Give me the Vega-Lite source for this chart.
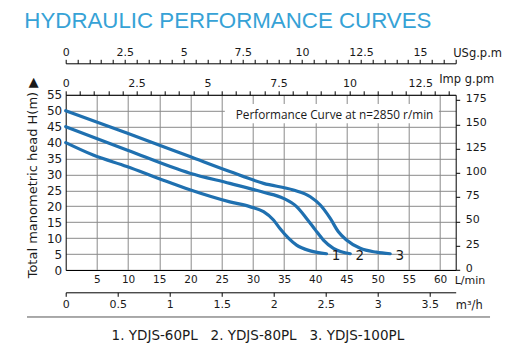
{
  "$schema": "https://vega.github.io/schema/vega-lite/v6.json",
  "width": 390,
  "height": 175.2,
  "autosize": "none",
  "padding": {"left": 65.7, "top": 94.8, "right": 62.3, "bottom": 80},
  "background": "white",
  "config": {
    "view": {"stroke": null},
    "axis": {"labelFont": "DejaVu Sans", "labelColor": "#1a1a1a", "titleFont": "DejaVu Sans", "titleColor": "#1a1a1a", "titleFontWeight": "normal", "domainColor": "#000000", "tickColor": "#000000", "domainWidth": 1, "tickWidth": 1, "labelOverlap": false, "labelFlush": false, "tickCount": 100}
  },
  "title": {"text": "HYDRAULIC PERFORMANCE CURVES", "anchor": "start", "frame": "group", "dx": -41.4, "offset": 14, "font": "Liberation Sans", "fontSize": 22.3, "fontWeight": "normal", "color": "#36a2d6"},
  "datasets": {
    "curves": [
      {"model": "1", "Q": 0, "H": 40}, {"model": "1", "Q": 4.4, "H": 36.1}, {"model": "1", "Q": 9.8, "H": 32.5}, {"model": "1", "Q": 15.1, "H": 28.6}, {"model": "1", "Q": 19.9, "H": 25.2}, {"model": "1", "Q": 26.3, "H": 21.4}, {"model": "1", "Q": 29.5, "H": 19.9}, {"model": "1", "Q": 31.7, "H": 18.3}, {"model": "1", "Q": 33.3, "H": 15.7}, {"model": "1", "Q": 34.3, "H": 13.1}, {"model": "1", "Q": 35.7, "H": 10.0}, {"model": "1", "Q": 37.0, "H": 7.8}, {"model": "1", "Q": 39.2, "H": 6.0}, {"model": "1", "Q": 41.8, "H": 5.1},
      {"model": "2", "Q": 0, "H": 45}, {"model": "2", "Q": 9.8, "H": 37.7}, {"model": "2", "Q": 19.9, "H": 30.4}, {"model": "2", "Q": 26.3, "H": 27.2}, {"model": "2", "Q": 31.7, "H": 24.4}, {"model": "2", "Q": 34.9, "H": 22.5}, {"model": "2", "Q": 37.0, "H": 19.9}, {"model": "2", "Q": 38.6, "H": 16.2}, {"model": "2", "Q": 40.0, "H": 12.6}, {"model": "2", "Q": 41.3, "H": 9.4}, {"model": "2", "Q": 42.9, "H": 6.8}, {"model": "2", "Q": 45.6, "H": 5.1},
      {"model": "3", "Q": 0, "H": 50}, {"model": "3", "Q": 9.8, "H": 43.0}, {"model": "3", "Q": 19.9, "H": 35.6}, {"model": "3", "Q": 26.3, "H": 30.9}, {"model": "3", "Q": 31.7, "H": 27.2}, {"model": "3", "Q": 36.5, "H": 25.1}, {"model": "3", "Q": 39.2, "H": 23.0}, {"model": "3", "Q": 40.8, "H": 20.4}, {"model": "3", "Q": 42.4, "H": 16.2}, {"model": "3", "Q": 43.7, "H": 12.0}, {"model": "3", "Q": 45.0, "H": 9.4}, {"model": "3", "Q": 47.2, "H": 6.8}, {"model": "3", "Q": 49.8, "H": 5.6}, {"model": "3", "Q": 52.0, "H": 5.1}
    ],
    "one": [{"k": 1}]
  },
  "resolve": {"scale": {"x": "independent", "y": "independent"}},
  "layer": [
    {
      "layer": [
        {
          "data": {"name": "curves"},
          "mark": {"type": "line", "interpolate": "monotone", "color": "#1f70b0", "strokeWidth": 3.2, "strokeCap": "round"},
          "encoding": {
            "x": {"field": "Q", "type": "quantitative", "scale": {"domain": [0, 62.5], "nice": false, "zero": false},
              "axis": {"orient": "bottom", "values": [5, 10, 15, 20, 25, 30, 35, 40, 45, 50, 55, 60], "labelExpr": "'' + datum.value", "tickCount": 100, "grid": true, "gridColor": "#8a8a8a", "gridWidth": 1, "gridOpacity": 1, "ticks": false, "tickSize": 0, "labelPadding": 4, "labelFontSize": 10.5, "labelOverlap": false, "title": "L/min", "titleFontSize": 11, "titleX": 388.5, "titleY": 13.5, "titleAlign": "left", "titleBaseline": "alphabetic"}},
            "y": {"field": "H", "type": "quantitative", "scale": {"domain": [0, 55], "nice": false, "zero": false},
              "axis": {"orient": "left", "values": [0, 5, 10, 15, 20, 25, 30, 35, 40, 45, 50, 55], "labelExpr": "'' + datum.value", "tickCount": 100, "grid": true, "gridColor": "#8a8a8a", "gridWidth": 1, "gridOpacity": 1, "ticks": false, "tickSize": 0, "labelPadding": 4, "labelFontSize": 12, "labelOverlap": false, "title": "Total manometric head H(m) ▶", "titleFontSize": 13, "titleAngle": 270, "titleAlign": "center", "titleBaseline": "middle", "titleX": -32.7, "titleY": 82.7}},
            "detail": {"field": "model"}
          }
        },
        {
          "data": {"name": "one"},
          "mark": {"type": "rect", "color": "white"},
          "encoding": {"x": {"datum": 25.5, "type": "quantitative"}, "x2": {"datum": 59.8}, "y": {"datum": 46.1, "type": "quantitative"}, "y2": {"datum": 52.1}}
        },
        {
          "data": {"name": "one"},
          "mark": {"type": "text", "text": "Performance Curve at n=2850 r/min", "align": "left", "baseline": "middle", "font": "Open Sans", "fontSize": 11.8, "color": "#1a1a1a"},
          "encoding": {"x": {"datum": 27.24, "type": "quantitative"}, "y": {"datum": 48.6, "type": "quantitative"}}
        },
        {
          "data": {"name": "curves"},
          "transform": [
            {"joinaggregate": [{"op": "max", "field": "Q", "as": "maxQ"}], "groupby": ["model"]},
            {"filter": "datum.Q === datum.maxQ"}
          ],
          "mark": {"type": "text", "align": "center", "baseline": "middle", "dx": 9.5, "dy": 2, "font": "DejaVu Sans", "fontSize": 13.5, "color": "#1a1a1a"},
          "encoding": {"x": {"field": "Q", "type": "quantitative"}, "y": {"field": "H", "type": "quantitative"}, "text": {"field": "model"}}
        },
        {
          "data": {"name": "one"},
          "mark": {"type": "rule", "color": "#555555", "strokeWidth": 1},
          "encoding": {"x": {"datum": -6.2, "type": "quantitative"}, "x2": {"datum": 68.0}, "y": {"datum": -14.75, "type": "quantitative"}}
        },
        {
          "data": {"name": "one"},
          "mark": {"type": "text", "text": "1. YDJS-60PL\u00a0\u00a0\u00a02. YDJS-80PL\u00a0\u00a0\u00a03. YDJS-100PL", "align": "center", "baseline": "middle", "font": "DejaVu Sans", "fontSize": 13.5, "color": "#1a1a1a"},
          "encoding": {"x": {"datum": 30.8, "type": "quantitative"}, "y": {"datum": -20.7, "type": "quantitative"}}
        }
      ]
    },
    {
      "data": {"name": "one"},
      "mark": {"type": "point", "opacity": 0},
      "encoding": {
        "x": {"field": "k", "type": "quantitative", "scale": {"domain": [0, 16.511], "nice": false, "zero": false},
          "axis": {"orient": "top", "offset": 31.5, "grid": false, "values": [0, 0.5, 1, 1.5, 2, 2.5, 3, 3.5, 4, 4.5, 5, 5.5, 6, 6.5, 7, 7.5, 8, 8.5, 9, 9.5, 10, 10.5, 11, 11.5, 12, 12.5, 13, 13.5, 14, 14.5, 15, 15.5, 16, 16.5], "labelExpr": "datum.value % 2.5 === 0 ? '' + datum.value : ''", "tickSize": 4, "labelPadding": 2, "labelFontSize": 11, "title": "USg.p.m", "titleFontSize": 11.5, "titleX": 387, "titleY": -6.5, "titleAlign": "left", "titleBaseline": "alphabetic"}}
      }
    },
    {
      "data": {"name": "one"},
      "mark": {"type": "point", "opacity": 0},
      "encoding": {
        "x": {"field": "k", "type": "quantitative", "scale": {"domain": [0, 13.748], "nice": false, "zero": false},
          "axis": {"orient": "top", "offset": 0, "grid": false, "values": [0, 0.5, 1, 1.5, 2, 2.5, 3, 3.5, 4, 4.5, 5, 5.5, 6, 6.5, 7, 7.5, 8, 8.5, 9, 9.5, 10, 10.5, 11, 11.5, 12, 12.5, 13, 13.5], "labelExpr": "datum.value % 2.5 === 0 ? '' + datum.value : ''", "tickSize": 4, "labelPadding": 2, "labelFontSize": 11, "title": "Imp g.pm", "titleFontSize": 11.5, "titleX": 373, "titleY": -12.8, "titleAlign": "left", "titleBaseline": "alphabetic"}}
      }
    },
    {
      "data": {"name": "one"},
      "mark": {"type": "point", "opacity": 0},
      "encoding": {
        "x": {"field": "k", "type": "quantitative", "scale": {"domain": [0, 3.75], "nice": false, "zero": false},
          "axis": {"orient": "bottom", "offset": 22.3, "grid": false, "values": [0, 0.5, 1, 1.5, 2, 2.5, 3, 3.5], "labelExpr": "'' + datum.value", "tickSize": 4, "labelPadding": 2, "labelFontSize": 11, "title": "m³/h", "titleFontSize": 11.5, "titleX": 389.5, "titleY": 16, "titleAlign": "left", "titleBaseline": "alphabetic"}}
      }
    },
    {
      "data": {"name": "one"},
      "mark": {"type": "point", "opacity": 0},
      "encoding": {
        "y": {"field": "k", "type": "quantitative", "scale": {"domain": [0, 180.44], "nice": false, "zero": false},
          "axis": {"orient": "right", "grid": false, "values": [0, 25, 50, 75, 100, 125, 150, 175], "labelExpr": "'' + datum.value", "tickSize": 4, "labelPadding": 5.5, "labelFontSize": 11, "labelBaseline": "middle", "labelOffset": -1.5, "title": null}}
      }
    }
  ]
}
